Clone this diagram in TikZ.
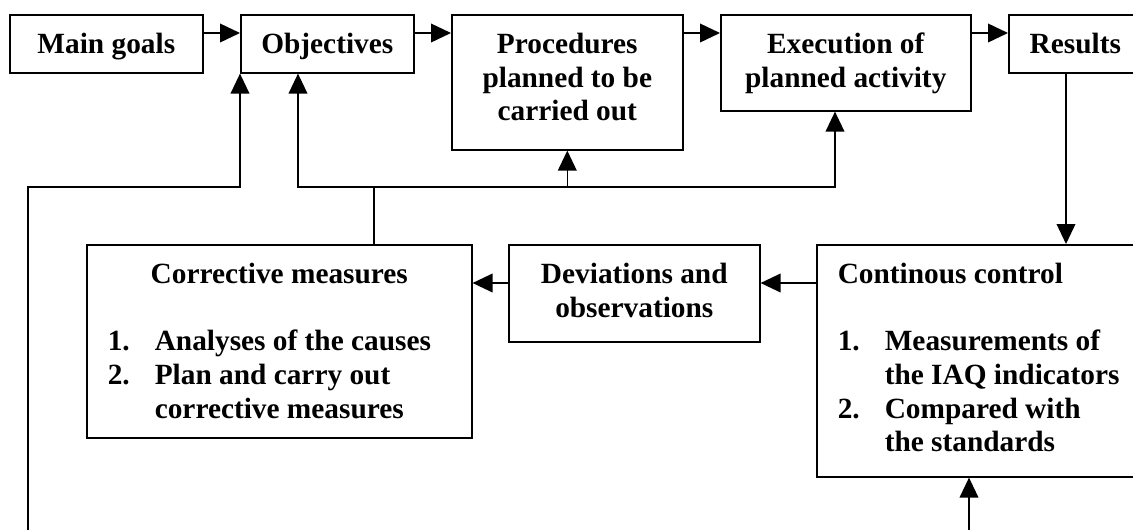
\documentclass[tikz,border=0pt]{standalone}
\usepackage{fontspec}
\setmainfont{Liberation Serif}
\usetikzlibrary{arrows.meta}
\newlength\pxu \setlength\pxu{0.75pt}
\newcommand\boxtext[3]{\parbox[c][#2\pxu][t]{#1\pxu}{\centering\vspace*{13.9pt}#3}}
\newcommand\listtext[3]{\parbox[c][#2\pxu][t]{#1\pxu}{\raggedright\leftskip=21\pxu\vspace*{13.9pt}#3}}
\newcommand\itemno[1]{\makebox[47\pxu][l]{#1}}
\tikzstyle{every node}=[draw, inner sep=0pt, anchor=north west, font=\fontsize{22}{25.2}\selectfont\bfseries]
\tikzstyle{arr}=[-{Triangle[length=15pt,width=14pt]}]

\begin{document}
\begin{tikzpicture}[x=0.75pt, y=-0.75pt, line width=1.2pt]
\useasboundingbox (0,0) rectangle (1133,529);
% Top row
    \node (goals) at (9,14) {\boxtext{193}{58}{Main goals}};
    \node (objectives) at (240,14) {\boxtext{173}{58}{Objectives}};
    \node (procedures) at (451,14) {\boxtext{231}{135}{Procedures\\planned to be\\carried out}};
    \node (execution) at (720,14) {\boxtext{250}{96}{Execution of\\planned activity}};
    \node (results) at (1008,14) {\boxtext{133}{58}{Results}};
% Lower row
    \node (corrective) at (86,244) {\listtext{385}{193}{{\centering Corrective measures\par}\vspace{\baselineskip}
        \itemno{1.}Analyses of the causes\\
        \itemno{2.}Plan and carry out\\
        \hspace*{47\pxu}corrective measures}};
    \node (deviations) at (508,244) {\boxtext{251}{97}{Deviations and\\observations}};
    \node (control) at (816,244) {\listtext{330}{232}{Continous control\par\vspace{\baselineskip}
        \itemno{1.}Measurements of\\
        \hspace*{47\pxu}the IAQ indicators\\
        \itemno{2.}Compared with\\
        \hspace*{47\pxu}the standards}};
% Arrows along the top
    \coordinate (row) at (0,33);
    \draw[arr] (goals.east |- row) -- (objectives.west |- row);
    \draw[arr] (objectives.east |- row) -- (procedures.west |- row);
    \draw[arr] (procedures.east |- row) -- (execution.west |- row);
    \draw[arr] (execution.east |- row) -- (results.west |- row);
% Control loop
    \coordinate (down) at (1066,0);
    \coordinate (mid) at (0,283);
    \draw[arr] (results.south -| down) -- (control.north -| down);
    \draw[arr] (control.west |- mid) -- (deviations.east |- mid);
    \draw[arr] (deviations.west |- mid) -- (corrective.east |- mid);
% Feedback from corrective measures
    \coordinate (split) at (374,187);
    \coordinate (fbleft) at (298,187);
    \coordinate (fbright) at (835,187);
    \draw (corrective.north -| split) -- (split);
    \draw[arr] (split) -- (fbleft) -- (objectives.south -| fbleft);
    \draw[arr] (split) -- (fbright) -- (execution.south -| fbright);
    \draw[arr] (procedures.south |- split) -- (procedures.south);
% Lines coming in from below
    \coordinate (loopin) at (28,545);
    \coordinate (loop) at (28,187);
    \draw[arr] (loopin) -- (loop) -| (objectives.south west);
    \coordinate (ctrlin) at (969,545);
    \draw[arr] (ctrlin) -- (control.south -| ctrlin);
\end{tikzpicture}
\end{document}
